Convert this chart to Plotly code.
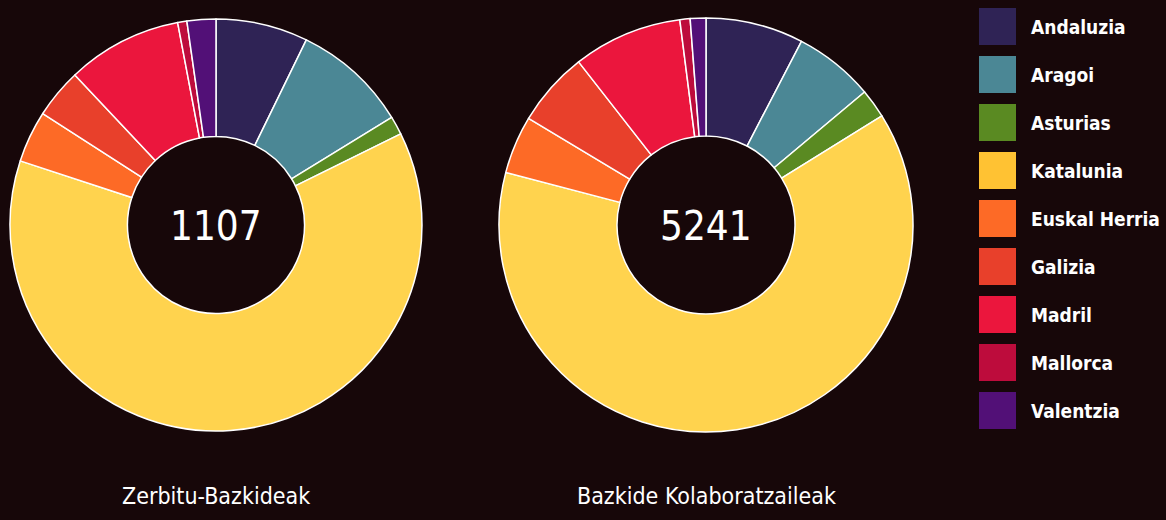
import plotly.graph_objects as go

regions = ["Andaluzia", "Aragoi", "Asturias", "Katalunia", "Euskal Herria",
           "Galizia", "Madril", "Mallorca", "Valentzia"]
zerbitu_values = [80, 100, 16, 690, 45, 43, 100, 8, 25]
kolaboratzaile_values = [400, 328, 119, 3298, 237, 306, 447, 42, 64]
totals = [1107, 5241]
titles = ["Zerbitu-Bazkideak", "Bazkide Kolaboratzaileak"]

slice_colors = ["#2f2355", "#4b8795", "#5a8a22", "#ffd34e", "#fd6a26",
                "#e8402b", "#eb163d", "#bd0c3c", "#521077"]
legend_colors = ["#2f2355", "#4b8795", "#5a8a22", "#ffc233", "#fd6a26",
                 "#e8402b", "#eb163d", "#bd0c3c", "#521077"]

W, H = 1166, 520
BG = "#170709"
FONT = "Liberation Sans Narrow, DejaVu Sans Condensed, Roboto Condensed, Roboto, sans-serif"

def px_dom_x(a, b):
    return [a / W, b / W]

def px_dom_y(top, bottom):
    return [1 - bottom / H, 1 - top / H]

fig = go.Figure()
pie_boxes = [(10, 422, 19, 431), (499, 913, 18, 432)]
for vals, box in zip([zerbitu_values, kolaboratzaile_values], pie_boxes):
    fig.add_trace(go.Pie(
        labels=regions, values=vals, sort=False, direction="clockwise",
        rotation=0, hole=0.43, textinfo="none", showlegend=False,
        marker=dict(colors=slice_colors, line=dict(color="white", width=1.5)),
        domain=dict(x=px_dom_x(box[0], box[1]), y=px_dom_y(box[2], box[3])),
    ))

annotations = []
shapes = []
centers = [216, 706]
for cx, tot, ttl in zip(centers, totals, titles):
    annotations.append(dict(x=cx / W, y=1 - 226 / H, xref="paper", yref="paper",
                            text=str(tot), showarrow=False, xanchor="center", yanchor="middle",
                            font=dict(family=FONT, size=40, color="white")))
    annotations.append(dict(x=cx / W, y=1 - 496 / H, xref="paper", yref="paper",
                            text=ttl, showarrow=False, xanchor="center", yanchor="middle",
                            font=dict(family=FONT, size=23, color="white")))

for i, (name, col) in enumerate(zip(regions, legend_colors)):
    top = 8 + 48 * i
    shapes.append(dict(type="rect", xref="paper", yref="paper",
                       x0=979 / W, x1=1016 / W, y0=1 - (top + 37) / H, y1=1 - top / H,
                       fillcolor=col, line=dict(width=0)))
    annotations.append(dict(x=1029 / W, y=1 - (top + 19) / H, xref="paper", yref="paper",
                            text="<b>" + name + "</b>", showarrow=False,
                            xanchor="left", yanchor="middle",
                            font=dict(family=FONT, size=19, color="white")))

fig.update_layout(width=W, height=H, margin=dict(l=0, r=0, t=0, b=0),
                  paper_bgcolor=BG, plot_bgcolor=BG,
                  annotations=annotations, shapes=shapes)
fig.write_html("out.html", config={"displayModeBar": False},
               post_script="document.body.style.margin='0';document.body.style.background='%s';" % BG)
